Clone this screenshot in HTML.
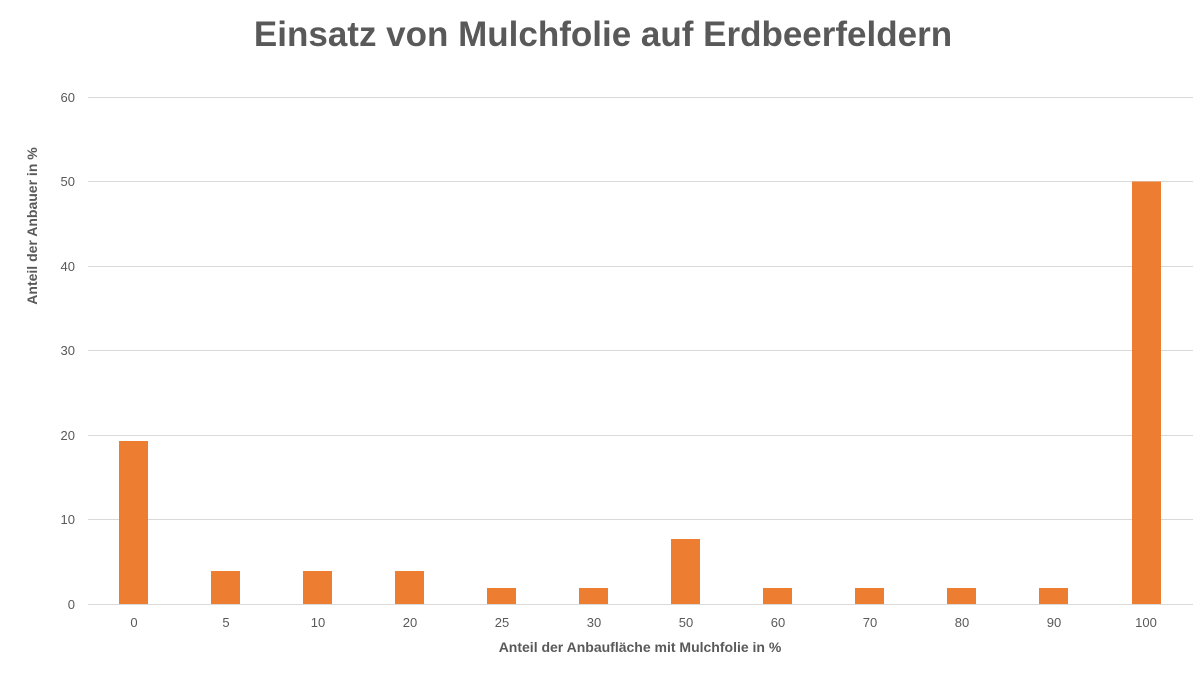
<!DOCTYPE html>
<html><head><meta charset="utf-8"><style>body{margin:0;background:#fff}</style></head><body>
<svg width="1200" height="675" xmlns="http://www.w3.org/2000/svg" font-family="Liberation Sans, sans-serif">
<rect width="1200" height="675" fill="#fff"/>
<text x="603" y="46" text-anchor="middle" font-size="35" font-weight="bold" fill="#595959">Einsatz von Mulchfolie auf Erdbeerfeldern</text>
<g stroke="#d9d9d9" stroke-width="1">
<line x1="88" x2="1193" y1="97.5" y2="97.5"/><line x1="88" x2="1193" y1="181.5" y2="181.5"/><line x1="88" x2="1193" y1="266.5" y2="266.5"/><line x1="88" x2="1193" y1="350.5" y2="350.5"/><line x1="88" x2="1193" y1="435.5" y2="435.5"/><line x1="88" x2="1193" y1="519.5" y2="519.5"/><line x1="88" x2="1193" y1="604.5" y2="604.5"/>
</g>
<g font-size="13" fill="#595959" text-anchor="end">
<text x="75" y="102">60</text><text x="75" y="186">50</text><text x="75" y="271">40</text><text x="75" y="355">30</text><text x="75" y="440">20</text><text x="75" y="524">10</text><text x="75" y="609">0</text>
</g>
<g fill="#ed7d31">
<rect x="119" y="441" width="29" height="163"/>
<rect x="211" y="571" width="29" height="33"/>
<rect x="303" y="571" width="29" height="33"/>
<rect x="395" y="571" width="29" height="33"/>
<rect x="487" y="588" width="29" height="16"/>
<rect x="579" y="588" width="29" height="16"/>
<rect x="671" y="539" width="29" height="65"/>
<rect x="763" y="588" width="29" height="16"/>
<rect x="855" y="588" width="29" height="16"/>
<rect x="947" y="588" width="29" height="16"/>
<rect x="1039" y="588" width="29" height="16"/>
<rect x="1132" y="181.5" width="29" height="422.5"/>
</g>
<g font-size="13" fill="#595959" text-anchor="middle">
<text x="134" y="627">0</text><text x="226" y="627">5</text><text x="318" y="627">10</text><text x="410" y="627">20</text><text x="502" y="627">25</text><text x="594" y="627">30</text><text x="686" y="627">50</text><text x="778" y="627">60</text><text x="870" y="627">70</text><text x="962" y="627">80</text><text x="1054" y="627">90</text><text x="1146" y="627">100</text>
</g>
<text x="640" y="652" text-anchor="middle" font-size="14" font-weight="bold" fill="#595959">Anteil der Anbaufläche mit Mulchfolie in %</text>
<text transform="translate(37,226) rotate(-90)" text-anchor="middle" font-size="14" font-weight="bold" fill="#595959">Anteil der Anbauer in %</text>
</svg>
</body></html>
